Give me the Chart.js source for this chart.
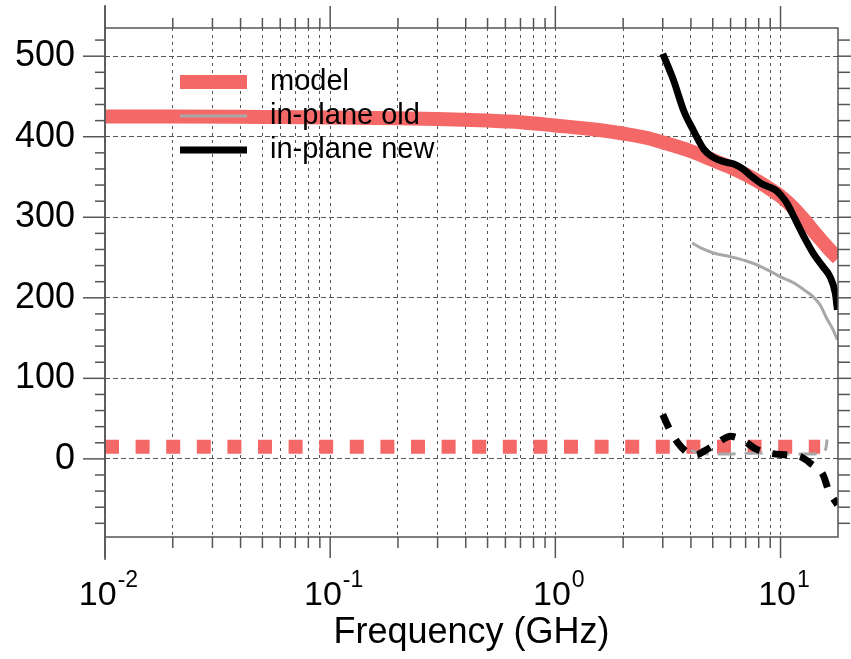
<!DOCTYPE html>
<html>
<head>
<meta charset="utf-8">
<script src="https://cdn.jsdelivr.net/npm/chart.js@4.4.1/dist/chart.umd.min.js"></script>
<style>
    body { margin: 0; background: #fff; }
    #wrap { width: 851px; height: 659px; }
</style>
</head>
<body>
<div id="wrap"><canvas id="chart" width="851" height="659"></canvas></div>
<script>
// =========================
// DATA
// =========================
const modelFreq = [0.01, 0.02, 0.05, 0.1, 0.2, 0.3, 0.5, 0.7, 1, 1.5, 2, 2.5, 3, 4, 5, 6, 7, 8, 9, 10, 11, 12, 13, 14, 15, 16, 17, 18]
const modelReal = [425, 425, 424.5, 424, 423, 422, 420, 418, 414, 409, 404, 399, 393, 382, 371, 362, 353, 344, 335, 326, 316, 305, 294, 283, 273, 264, 256, 249]
const modelImagFreq = [0.01, 0.1, 1, 10, 15]
const modelImag = [15, 15, 15, 15, 15]

const oldFreq = [4.05, 4.5, 5, 6, 7, 8, 9, 10, 11, 12, 13, 14, 15, 16, 17, 17.9]
const oldReal = [268, 261, 256, 251, 246, 240, 233, 226, 221, 215, 208, 201, 191, 175, 162, 148]
const oldImagFreq = [4.0, 4.5, 5, 6, 7, 8, 10, 12, 14, 15.4, 15.9, 16.1]
const oldImag = [10, 7, 6, 6, 7, 7, 6, 6, 6, 9, 13, 24]

const newFreq = [3.0, 3.35, 3.72, 4.1, 4.55, 5.05, 5.6, 6.2, 6.8, 7.5, 8.2, 9.0, 9.6, 10.2, 10.7, 11.5, 12.7, 14, 15.4, 16.6, 17.5, 17.9]
const newReal = [503, 470, 432, 408, 385, 374, 369, 366, 360, 350, 342, 337, 333, 325, 317, 300, 276, 255, 239, 226, 206, 185]
const newImagFreq = [3.0, 3.2, 3.5, 3.9, 4.2, 4.6, 5.2, 6.0, 6.9, 7.8, 9.0, 10.5, 12.2, 13.8, 15.4, 16.4, 17.9]
const newImag = [55, 38, 20, 7, 5, 10, 19, 28, 22, 12, 7, 5, 3, -7, -19, -40, -57]

const legendLabels = ["model", "in-plane old", "in-plane new"]

const xGrid = [0.01, 0.02, 0.03, 0.04, 0.05, 0.06, 0.07, 0.08, 0.09,
               0.1, 0.2, 0.3, 0.4, 0.5, 0.6, 0.7, 0.8, 0.9,
               1, 2, 3, 4, 5, 6, 7, 8, 9, 10]
const xDecades = [0.01, 0.1, 1, 10]
const xExponents = ["-2", "-1", "0", "1"]
const yTicks = [0, 100, 200, 300, 400, 500]
const yTickMarks = [-80, -60, -40, -20, 0, 20, 40, 60, 80, 100, 120, 140, 160, 180, 200, 220, 240, 260,
                    280, 300, 320, 340, 360, 380, 400, 420, 440, 460, 480, 500, 520]

const FONT = '"Liberation Sans", Arial, Helvetica, sans-serif'
const SALMON = "#f46868"
const GRAY = "#a8a8a8"
const AXIS = "#555"

const pts = (xs, ys) => xs.map((f, i) => ({ x: f, y: ys[i] }))

// =========================
// FRAME, TICKS, LABELS, LEGEND
// =========================
const framePlugin = {
    id: "frame",
    afterDraw(chart) {
        const { ctx, chartArea: a, scales: { x, y } } = chart
        const line = (x1, y1, x2, y2) => {
            ctx.beginPath(); ctx.moveTo(x1, y1); ctx.lineTo(x2, y2); ctx.stroke()
        }
        ctx.save()
        ctx.strokeStyle = AXIS
        ctx.lineWidth = 1.5
        ctx.strokeRect(a.left, a.top, a.right - a.left, a.bottom - a.top)
        line(a.left, a.top - 23, a.left, a.bottom + 23)

        yTickMarks.forEach(v => {
            const py = y.getPixelForValue(v)
            const major = yTicks.includes(v)
            line(a.left - (major ? 22 : 10), py, a.left, py)
            line(a.right, py, a.right + (major ? 22 : 12), py)
        })
        xGrid.forEach(v => {
            const px = x.getPixelForValue(v)
            const major = xDecades.includes(v)
            line(px, a.bottom, px, a.bottom + (major ? 21 : 11))
            line(px, a.top, px, a.top - (major ? 22 : 10))
        })

        // x decade labels with superscripts
        ctx.fillStyle = "#000"
        ctx.textBaseline = "alphabetic"
        ctx.textAlign = "left"
        xDecades.forEach((v, i) => {
            const px = x.getPixelForValue(v)
            ctx.font = "34px " + FONT
            const wBase = ctx.measureText("10").width
            ctx.font = "23px " + FONT
            const wExp = ctx.measureText(xExponents[i]).width
            const start = px + 3 - (wBase + wExp) / 2
            ctx.font = "34px " + FONT
            ctx.fillText("10", start, a.bottom + 68)
            ctx.font = "23px " + FONT
            ctx.fillText(xExponents[i], start + wBase + 1, a.bottom + 50)
        })

        // legend (solid series only, in dataset order)
        const shown = chart.data.datasets.filter(d => d.inLegend)
        shown.forEach((d, i) => {
            const ly = a.top + 54 + i * 34
            ctx.strokeStyle = d.borderColor
            ctx.lineWidth = d.borderWidth
            ctx.lineCap = "butt"
            line(a.left + 75, ly, a.left + 142, ly)
            ctx.fillStyle = "#000"
            ctx.font = "29px " + FONT
            ctx.fillText(legendLabels[i], a.left + 165, ly + 8)
        })
        ctx.restore()
    }
}

const lineDefaults = {
    pointRadius: 0,
    fill: false,
    cubicInterpolationMode: "monotone",
    borderCapStyle: "butt",
    borderJoinStyle: "round"
}

new Chart(document.getElementById("chart"), {
    type: "line",
    data: {
        datasets: [
            { ...lineDefaults, data: pts(modelFreq, modelReal), borderColor: SALMON, borderWidth: 14, order: 3, inLegend: true },
            { ...lineDefaults, data: pts(modelImagFreq, modelImag), borderColor: SALMON, borderWidth: 14, borderDash: [14, 16.6], order: 3 },
            { ...lineDefaults, data: pts(oldFreq, oldReal), borderColor: GRAY, borderWidth: 3, order: 2, inLegend: true },
            { ...lineDefaults, data: pts(oldImagFreq, oldImag), borderColor: GRAY, borderWidth: 3, borderDash: [18, 9], order: 2 },
            { ...lineDefaults, data: pts(newFreq, newReal), borderColor: "#000", borderWidth: 7, order: 1, inLegend: true },
            { ...lineDefaults, data: pts(newImagFreq, newImag), borderColor: "#000", borderWidth: 7, borderDash: [15, 13], order: 1 }
        ]
    },
    options: {
        responsive: false,
        animation: false,
        layout: { padding: { top: 28, right: 13, left: 0, bottom: 0 } },
        plugins: {
            legend: { display: false },
            tooltip: { enabled: false }
        },
        scales: {
            x: {
                type: "logarithmic",
                min: 0.01,
                max: 18,
                afterBuildTicks: s => { s.ticks = xGrid.map(v => ({ value: v })) },
                afterFit: s => { s.height = 122; s.paddingLeft = 0; s.paddingRight = 0 },
                ticks: { display: false },
                grid: { color: AXIS, lineWidth: 1, drawTicks: false },
                border: { display: false, dash: [3, 4] },
                title: {
                    display: true,
                    text: "Frequency (GHz)",
                    color: "#000",
                    font: { family: FONT, size: 36 },
                    padding: { top: 0, bottom: 4 }
                }
            },
            y: {
                min: -97,
                max: 535,
                afterBuildTicks: s => { s.ticks = yTicks.map(v => ({ value: v })) },
                afterFit: s => { s.width = 105; s.paddingTop = 0; s.paddingBottom = 0 },
                ticks: { color: "#000", padding: 30, font: { family: FONT, size: 36 } },
                grid: { color: AXIS, lineWidth: 1, drawTicks: false },
                border: { display: false, dash: [5, 3] }
            }
        }
    },
    plugins: [framePlugin]
})
</script>
</body>
</html>
